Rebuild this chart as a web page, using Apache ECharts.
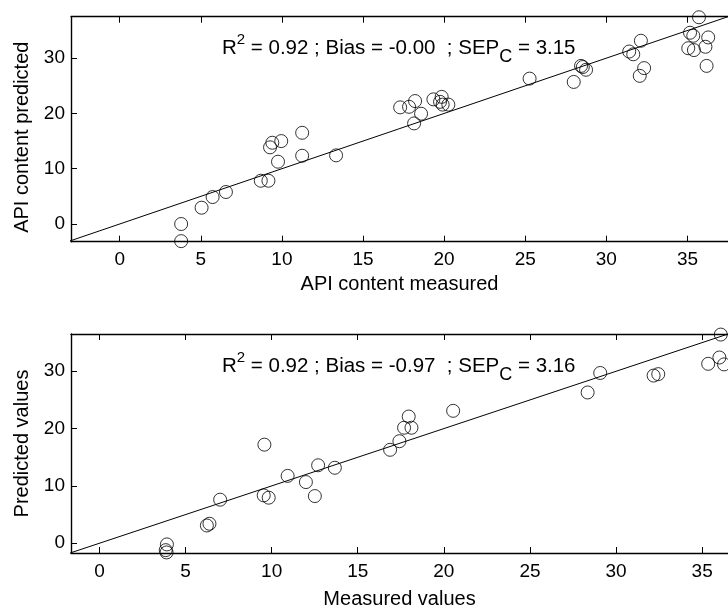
<!DOCTYPE html>
<html>
<head>
<meta charset="utf-8">
<script src="https://cdn.jsdelivr.net/npm/echarts@6/dist/echarts.min.js"></script>
<style>
html,body{margin:0;padding:0;background:#fff;}
#chart{width:728px;height:610px;}
</style>
</head>
<body>
<div id="chart"></div>
<script>
// ---- data ----
const xTickValues = [0, 5, 10, 15, 20, 25, 30, 35];
const yTickValues = [0, 10, 20, 30];

const topMeasured = [3.79, 3.79, 5.05, 5.73, 6.55, 8.70, 9.17, 9.76, 9.27, 9.41, 9.96, 11.25, 11.25, 13.34,
  17.29, 17.84, 18.21, 18.58, 18.15, 19.34, 19.85, 19.75, 19.91, 20.26, 25.27,
  27.99, 28.44, 28.55, 28.75, 31.41, 31.66, 32.13, 32.33, 32.06, 34.58, 35.71, 35.16, 35.36, 36.28, 35.05, 35.40, 36.11, 36.18];
const topPredicted = [0.0, -3.1, 2.95, 4.88, 5.79, 7.83, 7.83, 11.27, 13.87, 14.7, 15.0, 16.5, 12.35, 12.42,
  21.1, 21.2, 22.24, 19.95, 18.2, 22.55, 23.0, 22.1, 21.6, 21.6, 26.3,
  25.7, 28.6, 28.4, 27.9, 31.2, 30.7, 33.15, 28.2, 26.8, 37.6, 37.4, 34.6, 34.05, 33.75, 31.8, 31.46, 32.06, 28.6];

const bottomMeasured = [3.92, 3.85, 3.90, 6.24, 6.39, 7.01, 9.58, 9.54, 9.83, 10.93, 11.99, 12.51, 12.70, 13.67,
  16.88, 17.42, 17.69, 18.12, 17.96, 20.54, 28.35, 29.08, 32.18, 32.45, 35.35, 36.00, 36.27, 36.08];
const bottomPredicted = [-0.2, -1.2, -1.6, 3.1, 3.4, 7.6, 17.2, 8.35, 7.95, 11.75, 10.67, 8.23, 13.6, 13.17,
  16.3, 17.8, 20.15, 20.15, 22.1, 23.1, 26.3, 29.7, 29.25, 29.5, 31.3, 32.4, 31.2, 36.4];

const topRange = { xMin: -3.0, xMax: 37.5, yMin: -3.2, yMax: 37.5 };
const bottomRange = { xMin: -1.65, xMax: 36.5, yMin: -1.7, yMax: 36.5 };

const topFitX = [-3.2, 37.5], topFitY = [-3.2, 37.5];
const bottomFitX = [-1.7, 36.5], bottomFitY = [-1.7, 36.5];

const topStats = { r2: '0.92', bias: '-0.00', sep: '3.15' };
const bottomStats = { r2: '0.92', bias: '-0.97', sep: '3.16' };

// ---- build ----
const FONT = "'Liberation Sans', Arial, sans-serif";
const zip = (a, b) => a.map((v, i) => [v, b[i]]);

function xAx(gridIndex, range, pos, name, nameGap) {
  const bottom = pos === 'bottom';
  return {
    type: 'value', gridIndex, position: pos, min: range.xMin, max: range.xMax,
    name: bottom ? name : '', nameLocation: 'middle', nameGap,
    nameTextStyle: { fontFamily: FONT, fontSize: 20, color: '#000' },
    axisLine: { show: true, onZero: false, lineStyle: { color: '#000', width: 1.4 } },
    axisTick: { show: true, inside: true, length: 6, customValues: xTickValues, lineStyle: { color: '#000', width: 1 } },
    axisLabel: { show: bottom, customValues: xTickValues, fontFamily: FONT, fontSize: 19, color: '#000', margin: 9 },
    splitLine: { show: false }
  };
}
function yAx(gridIndex, range, name, namePad) {
  return {
    type: 'value', gridIndex, position: 'left', min: range.yMin, max: range.yMax,
    name, nameLocation: 'middle', nameGap: 38,
    nameTextStyle: { fontFamily: FONT, fontSize: 20, color: '#000', padding: namePad },
    axisLine: { show: true, onZero: false, lineStyle: { color: '#000', width: 1.4 } },
    axisTick: { show: true, inside: true, length: 6, customValues: yTickValues, lineStyle: { color: '#000', width: 1 } },
    axisLabel: { show: true, customValues: yTickValues, fontFamily: FONT, fontSize: 19, color: '#000', margin: 6 },
    splitLine: { show: false }
  };
}
function scatter(xi, yi, data) {
  return {
    type: 'scatter', xAxisIndex: xi, yAxisIndex: yi, data, symbol: 'circle', symbolSize: 13,
    itemStyle: { color: 'rgba(0,0,0,0)', borderColor: '#000', borderWidth: 1 }, z: 3, silent: true
  };
}
function fit(xi, yi, xs, ys) {
  return {
    type: 'line', xAxisIndex: xi, yAxisIndex: yi, data: zip(xs, ys), symbol: 'none', clip: true,
    lineStyle: { color: '#000', width: 1 }, z: 2, silent: true
  };
}
function statText(s, x, y) {
  return {
    type: 'text', left: x, top: y,
    style: {
      text: '{a|R}{sup|2}{a| = ' + s.r2 + ' ; Bias = ' + s.bias + '  ; SEP}{sub|C}{a| = ' + s.sep + '}',
      verticalAlign: 'middle',
      rich: {
        a: { fontFamily: FONT, fontSize: 20.5, fill: '#000', verticalAlign: 'middle' },
        sup: { fontFamily: FONT, fontSize: 15, fill: '#000', verticalAlign: 'middle', padding: [0, 0, 18, 0] },
        sub: { fontFamily: FONT, fontSize: 18, fill: '#000', verticalAlign: 'middle', padding: [18, 0, 0, 0] }
      }
    }
  };
}

const chart = echarts.init(document.getElementById('chart'), null, { renderer: 'canvas' });
chart.setOption({
  animation: false,
  backgroundColor: '#fff',
  grid: [
    { left: 71, top: 16.7, width: 660, height: 225 },
    { left: 71, top: 334, width: 659, height: 224.3 }
  ],
  xAxis: [
    xAx(0, topRange, 'bottom', 'API content measured', 33),
    xAx(0, topRange, 'top', '', 0),
    xAx(1, bottomRange, 'bottom', 'Measured values', 36),
    xAx(1, bottomRange, 'top', '', 0)
  ],
  yAxis: [
    yAx(0, topRange, 'API content predicted', [0, 16, 0, 0]),
    yAx(1, bottomRange, 'Predicted values', 0)
  ],
  series: [
    fit(0, 0, topFitX, topFitY),
    scatter(0, 0, zip(topMeasured, topPredicted)),
    fit(2, 1, bottomFitX, bottomFitY),
    scatter(2, 1, zip(bottomMeasured, bottomPredicted))
  ],
  graphic: [
    statText(topStats, 222, 32),
    statText(bottomStats, 222, 350)
  ]
});
</script>
</body>
</html>
